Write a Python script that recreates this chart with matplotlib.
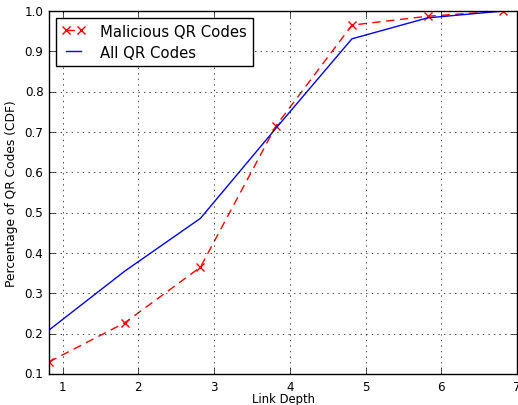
import matplotlib
matplotlib.use("Agg")
import matplotlib.pyplot as plt

# link depth (x positions as drawn) and CDF values
depth = [0.82, 1.82, 2.82, 3.82, 4.82, 5.82, 6.82]
malicious_cdf = [0.13, 0.227, 0.365, 0.716, 0.965, 0.987, 1.0]
all_cdf = [0.209, 0.355, 0.486, 0.71, 0.931, 0.983, 1.0]

x_ticks = [1, 2, 3, 4, 5, 6, 7]
y_ticks = [0.1, 0.2, 0.3, 0.4, 0.5, 0.6, 0.7, 0.8, 0.9, 1.0]

plt.style.use("classic")
plt.rcParams["font.family"] = ["DejaVu Sans"]

fig = plt.figure(figsize=(5.18, 4.06), dpi=100, facecolor="white")
ax = fig.add_axes([49 / 518, 1 - 375 / 406, 468 / 518, 363 / 406])

ax.plot(depth, malicious_cdf, "rx--", label="Malicious QR Codes",
        markersize=6, linewidth=1.0, markeredgewidth=1.0, dashes=(6, 4))
ax.plot(depth, all_cdf, "b-", label="All QR Codes", linewidth=1.0)

ax.set_xlim(0.82, 7)
ax.set_ylim(0.1, 1.0)
ax.set_xticks(x_ticks)
ax.set_yticks(y_ticks)
ax.set_yticklabels([f"{v:.1f}" for v in y_ticks])
ax.tick_params(labelsize=8.6)
ax.tick_params(axis="x", pad=4)
ax.set_xlabel("Link Depth", fontsize=8.4, labelpad=-0.5)
ax.set_ylabel("Percentage of QR Codes (CDF)", fontsize=8.8)
ax.grid(True)
ax.legend(loc="upper left", fontsize=10.7, numpoints=2,
          borderaxespad=0.45, handlelength=1.6, handletextpad=1.0,
          borderpad=0.4, labelspacing=0.4)

fig.savefig("out.png", dpi=100, facecolor="white")
